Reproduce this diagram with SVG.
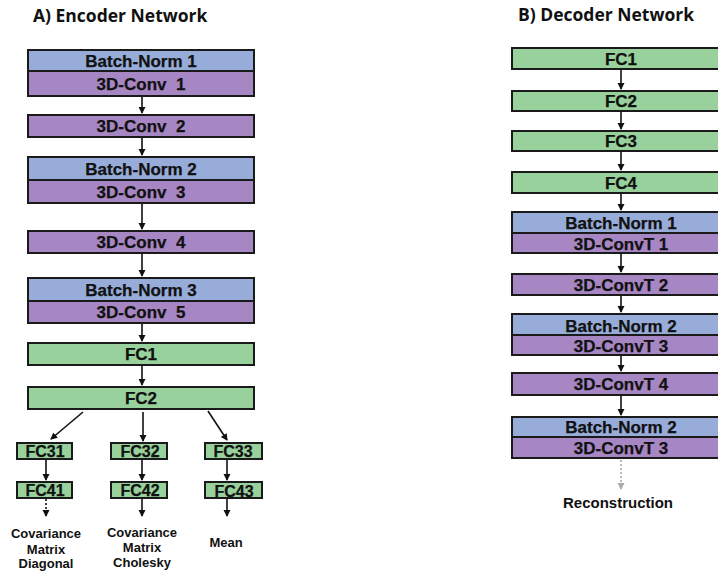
<svg xmlns="http://www.w3.org/2000/svg" width="718" height="572" viewBox="0 0 718 572">
<style>
text{font-family:"Liberation Sans",Arial,sans-serif;font-weight:bold;fill:#111;text-anchor:middle}
.t{font-size:17px;stroke:#111;stroke-width:0.25}
.s{font-size:16px;stroke:#111;stroke-width:0.25}
.l{font-size:13px}
.r{font-size:15px}
.h{font-family:"Open Sans","Liberation Sans",sans-serif;font-size:17.5px;text-anchor:start}
.bn{fill:#97acd9;stroke:#1a1a1a;stroke-width:2}
.cv{fill:#a786c4;stroke:#1a1a1a;stroke-width:2}
.fc{fill:#98d19c;stroke:#1a1a1a;stroke-width:2}
.a{stroke:#111;stroke-width:1.6;fill:none;marker-end:url(#ah)}
.d{stroke:#111;stroke-width:1.6;fill:none;stroke-dasharray:2 2;marker-end:url(#ah)}
.g{stroke:#aaa;stroke-width:1.6;fill:none;stroke-dasharray:2 2;marker-end:url(#ahg)}
</style>
<defs>
<marker id="ah" markerUnits="userSpaceOnUse" markerWidth="8" markerHeight="8" refX="6" refY="3.5" orient="auto"><path d="M0,0 L7,3.5 L0,7 z" fill="#111"/></marker>
<marker id="ahg" markerUnits="userSpaceOnUse" markerWidth="8" markerHeight="8" refX="6" refY="3.5" orient="auto"><path d="M0,0 L7,3.5 L0,7 z" fill="#aaa"/></marker>
</defs>
<text class="h" x="33" y="22">A)  Encoder Network</text>
<text class="h" x="518" y="21">B)  Decoder Network</text>
<g id="connectors">
<path class="a" d="M142,97 V113"/>
<path class="a" d="M142,138 V155"/>
<path class="a" d="M142,204 V229"/>
<path class="a" d="M142,254 V276"/>
<path class="a" d="M142,324 V341"/>
<path class="a" d="M142,366 V385"/>
<path class="a" d="M83,412 L51,439"/>
<path class="a" d="M143,412 V441"/>
<path class="a" d="M208,411 L227,440"/>
<path class="a" d="M46,460 V480"/>
<path class="a" d="M142,460 V480"/>
<path class="a" d="M227,460 V480"/>
<path class="d" d="M46,499 V516"/>
<path class="a" d="M142,499 V516"/>
<path class="a" d="M227,499 V516"/>
<path class="a" d="M621,70 V89"/>
<path class="a" d="M621,112 V129"/>
<path class="a" d="M621,152 V170"/>
<path class="a" d="M621,194 V210"/>
<path class="a" d="M621,254 V272"/>
<path class="a" d="M621,296 V312"/>
<path class="a" d="M621,356 V371"/>
<path class="a" d="M621,396 V415"/>
<path class="g" d="M621,460 V489"/>
</g>
<g id="enc-bn1"><rect class="bn" x="28" y="50" width="226" height="21"/><text class="t" x="141" y="67">Batch-Norm 1</text></g>
<g id="enc-conv1"><rect class="cv" x="28" y="71" width="226" height="25"/><text class="t" x="141" y="90" xml:space="preserve">3D-Conv  1</text></g>
<g id="enc-conv2"><rect class="cv" x="28" y="115" width="226" height="22"/><text class="t" x="141" y="132" xml:space="preserve">3D-Conv  2</text></g>
<g id="enc-bn2"><rect class="bn" x="28" y="157" width="226" height="23"/><text class="t" x="141" y="175">Batch-Norm 2</text></g>
<g id="enc-conv3"><rect class="cv" x="28" y="180" width="226" height="23"/><text class="t" x="141" y="198" xml:space="preserve">3D-Conv  3</text></g>
<g id="enc-conv4"><rect class="cv" x="28" y="231" width="226" height="22"/><text class="t" x="141" y="248" xml:space="preserve">3D-Conv  4</text></g>
<g id="enc-bn3"><rect class="bn" x="28" y="278" width="226" height="23"/><text class="t" x="141" y="296">Batch-Norm 3</text></g>
<g id="enc-conv5"><rect class="cv" x="28" y="301" width="226" height="22"/><text class="t" x="141" y="318" xml:space="preserve">3D-Conv  5</text></g>
<g id="enc-fc1"><rect class="fc" x="28" y="343" width="226" height="22"/><text class="t" x="141" y="360">FC1</text></g>
<g id="enc-fc2"><rect class="fc" x="28" y="387" width="226" height="22"/><text class="t" x="141" y="404">FC2</text></g>
<g id="fc31"><rect class="fc" x="17" y="443" width="55" height="16"/><text class="s" x="45" y="457">FC31</text></g>
<g id="fc32"><rect class="fc" x="111" y="443" width="56" height="16"/><text class="s" x="140" y="457">FC32</text></g>
<g id="fc33"><rect class="fc" x="205" y="443" width="57" height="16"/><text class="s" x="233" y="457">FC33</text></g>
<g id="fc41"><rect class="fc" x="17" y="482" width="55" height="16"/><text class="s" x="45" y="496">FC41</text></g>
<g id="fc42"><rect class="fc" x="111" y="482" width="56" height="16"/><text class="s" x="140" y="496">FC42</text></g>
<g id="fc43"><rect class="fc" x="205" y="482" width="57" height="16"/><text class="s" x="234" y="497">FC43</text></g>
<g id="out-diag"><text class="l" x="46" y="538">Covariance</text><text class="l" x="46" y="554">Matrix</text><text class="l" x="46" y="568">Diagonal</text></g>
<g id="out-chol"><text class="l" x="142" y="537">Covariance</text><text class="l" x="142" y="552">Matrix</text><text class="l" x="142" y="567">Cholesky</text></g>
<g id="out-mean"><text class="l" x="226" y="547">Mean</text></g>
<g id="dec-fc1"><rect class="fc" x="512" y="48" width="218" height="21"/><text class="t" x="621" y="65">FC1</text></g>
<g id="dec-fc2"><rect class="fc" x="512" y="91" width="218" height="20"/><text class="t" x="621" y="107">FC2</text></g>
<g id="dec-fc3"><rect class="fc" x="512" y="131" width="218" height="20"/><text class="t" x="621" y="147">FC3</text></g>
<g id="dec-fc4"><rect class="fc" x="512" y="172" width="218" height="21"/><text class="t" x="621" y="189">FC4</text></g>
<g id="dec-bn1"><rect class="bn" x="512" y="212" width="218" height="21"/><text class="t" x="621" y="229">Batch-Norm 1</text></g>
<g id="dec-t1"><rect class="cv" x="512" y="233" width="218" height="20"/><text class="t" x="621" y="250">3D-ConvT 1</text></g>
<g id="dec-t2"><rect class="cv" x="512" y="274" width="218" height="21"/><text class="t" x="621" y="291">3D-ConvT 2</text></g>
<g id="dec-bn2"><rect class="bn" x="512" y="314" width="218" height="21"/><text class="t" x="621" y="332">Batch-Norm 2</text></g>
<g id="dec-t3"><rect class="cv" x="512" y="335" width="218" height="20"/><text class="t" x="621" y="352">3D-ConvT 3</text></g>
<g id="dec-t4"><rect class="cv" x="512" y="373" width="218" height="22"/><text class="t" x="621" y="390">3D-ConvT 4</text></g>
<g id="dec-bn2b"><rect class="bn" x="512" y="417" width="218" height="20"/><text class="t" x="621" y="433">Batch-Norm 2</text></g>
<g id="dec-t3b"><rect class="cv" x="512" y="437" width="218" height="21"/><text class="t" x="621" y="454">3D-ConvT 3</text></g>
<g id="recon"><text class="r" x="618" y="508">Reconstruction</text></g>
</svg>
